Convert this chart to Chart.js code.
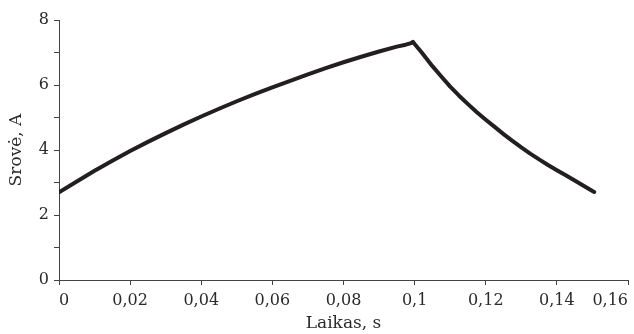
<!DOCTYPE html>
<html>
<head>
<meta charset="utf-8">
<script src="https://cdn.jsdelivr.net/npm/chart.js@4/dist/chart.umd.min.js"></script>
<style>
  html, body { margin: 0; padding: 0; background: #ffffff; }
  #wrap { width: 634px; height: 334px; }
</style>
</head>
<body>
<div id="wrap"><canvas id="c" width="634" height="334"></canvas></div>
<script>
const timeValues = [0, 0.005, 0.010, 0.015, 0.020, 0.025, 0.030, 0.035, 0.040, 0.045, 0.050, 0.055, 0.060, 0.065, 0.070, 0.075, 0.080, 0.085, 0.090, 0.095, 0.0975, 0.099, 0.0995,
  0.100, 0.102, 0.105, 0.1075, 0.110, 0.1125, 0.115, 0.1175, 0.120, 0.1225, 0.125, 0.1275, 0.130, 0.1325, 0.135, 0.1375, 0.140, 0.1425, 0.145, 0.1475, 0.150, 0.1505];
const currentValues = [2.70, 3.03, 3.36, 3.67, 3.97, 4.25, 4.52, 4.78, 5.03, 5.27, 5.50, 5.72, 5.93, 6.13, 6.33, 6.52, 6.70, 6.87, 7.03, 7.18, 7.24, 7.29, 7.33,
  7.26, 7.00, 6.58, 6.26, 5.95, 5.67, 5.41, 5.16, 4.93, 4.71, 4.49, 4.28, 4.08, 3.89, 3.71, 3.54, 3.38, 3.22, 3.06, 2.90, 2.74, 2.71];
const xTickLabels = ['0', '0,02', '0,04', '0,06', '0,08', '0,1', '0,12', '0,14', '0,16'];
const yTickLabels = ['0', '', '2', '', '4', '', '6', '', '8'];
const xTitle = 'Laikas, s';
const yTitle = 'Srovė, A';

const points = timeValues.map((t, i) => ({ x: t, y: currentValues[i] }));
const textColor = '#2a2a2a';
const axisColor = '#444444';

new Chart(document.getElementById('c'), {
  type: 'line',
  data: {
    datasets: [{
      data: points,
      borderColor: '#231f20',
      borderWidth: 4,
      borderJoinStyle: 'round',
      borderCapStyle: 'round',
      pointRadius: 0,
      tension: 0,
      fill: false
    }]
  },
  options: {
    responsive: false,
    animation: false,
    events: [],
    layout: { padding: { top: 20, right: 6, left: 0, bottom: 0 } },
    plugins: { legend: { display: false }, tooltip: { enabled: false } },
    scales: {
      x: {
        type: 'linear',
        min: 0, max: 0.16,
        border: { display: true, color: axisColor, width: 1 },
        grid: { display: true, drawOnChartArea: false, drawTicks: true, tickLength: 5, color: axisColor },
        ticks: {
          stepSize: 0.02,
          align: 'inner',
          color: textColor,
          padding: 6,
          font: { family: 'DejaVu Serif', size: 16 },
          maxRotation: 0,
          autoSkip: false,
          callback: (v, i) => xTickLabels[i]
        },
        title: {
          display: true, text: xTitle, color: textColor,
          font: { family: 'DejaVu Serif', size: 17 },
          padding: { top: 0, bottom: 0 }
        },
        afterFit: s => { s.height = 54; }
      },
      y: {
        min: 0, max: 8,
        border: { display: true, color: axisColor, width: 1 },
        grid: { display: true, drawOnChartArea: false, drawTicks: true, tickLength: 5, color: axisColor },
        ticks: {
          stepSize: 1,
          color: textColor,
          padding: 5,
          font: { family: 'DejaVu Serif', size: 16 },
          autoSkip: false,
          callback: (v, i) => yTickLabels[i]
        },
        title: {
          display: true, text: yTitle, color: textColor,
          font: { family: 'DejaVu Serif', size: 17 },
          padding: { top: 6, bottom: 0 }
        },
        afterFit: s => { s.width = 59; }
      }
    }
  }
});
</script>
</body>
</html>
